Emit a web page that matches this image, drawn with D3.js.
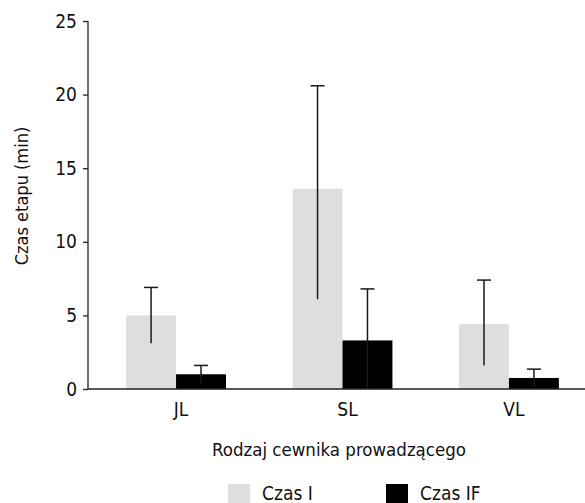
<!DOCTYPE html>
<html><head><meta charset="utf-8">
<script src="https://cdn.jsdelivr.net/npm/d3@7"></script>
<style>body{margin:0;background:#fff}svg{display:block}text{font-family:"DejaVu Sans Condensed","Liberation Sans Narrow",sans-serif;font-stretch:condensed;fill:#111}</style>
</head><body><svg id="c" width="585" height="503"></svg>
<script>
const categories = ["JL", "SL", "VL"];
const seriesNames = ["Czas I", "Czas IF"];
const czasI = [5.0, 13.6, 4.4];
const czasIF = [1.0, 3.3, 0.75];
const czasIErrUp = [1.9, 7.0, 3.0];
const czasIErrDown = [1.9, 7.5, 2.8];
const czasIFErrUp = [0.6, 3.5, 0.6];
const czasIFErrDown = [0.6, 3.3, 0.6];
const yTicks = [0, 5, 10, 15, 20, 25];
const colors = ["#dedede", "#000000"];
const FONT = '"DejaVu Sans Condensed","Liberation Sans Narrow",sans-serif';

const svg = d3.select("#c");
const x0 = 88;
const y = d3.scaleLinear().domain([0, 25]).range([389, 21]);
const x = d3.scaleBand().domain(categories).range([85.5, 599.5]).paddingInner(0.4).paddingOuter(0.244);
const xs = d3.scaleBand().domain(seriesNames).range([0, x.bandwidth()]);

const series = [
  {name: seriesNames[0], vals: czasI, up: czasIErrUp, down: czasIErrDown, color: colors[0]},
  {name: seriesNames[1], vals: czasIF, up: czasIFErrUp, down: czasIFErrDown, color: colors[1]}
];

series.forEach(s => {
  svg.append("g").selectAll("rect").data(categories).join("rect")
    .attr("x", (c) => x(c) + xs(s.name))
    .attr("width", xs.bandwidth())
    .attr("y", (c, i) => y(s.vals[i]))
    .attr("height", (c, i) => y(0) - y(s.vals[i]))
    .attr("fill", s.color);
});
series.forEach(s => {
  const g = svg.append("g").attr("stroke", "#1a1a1a").attr("stroke-width", 1.5);
  categories.forEach((c, i) => {
    const cx = x(c) + xs(s.name) + xs.bandwidth() / 2;
    const top = y(s.vals[i] + s.up[i]), bot = y(s.vals[i] - s.down[i]);
    g.append("line").attr("x1", cx).attr("x2", cx).attr("y1", top).attr("y2", bot);
    g.append("line").attr("x1", cx - 7).attr("x2", cx + 7).attr("y1", top).attr("y2", top);
  });
});

const yAxis = svg.append("g").attr("transform", `translate(${x0},0)`)
  .call(d3.axisLeft(y).tickValues(yTicks).tickSize(5).tickPadding(6));
yAxis.select(".domain").attr("stroke", "#222").attr("stroke-width", 1.3).attr("d", `M0,${y(25)}V${y(0)}`);
yAxis.selectAll(".tick line").attr("stroke", "#222").attr("stroke-width", 1.3);
yAxis.selectAll(".tick text").style("font-size", "19px").attr("fill", "#111").style("font-family", FONT);

const xAxis = svg.append("g").attr("transform", `translate(0,${y(0)})`)
  .call(d3.axisBottom(x).tickSize(0).tickPadding(14));
xAxis.select(".domain").attr("stroke", "#222").attr("stroke-width", 1.3).attr("d", `M${x0},0H585`);
xAxis.selectAll(".tick text").style("font-size", "19px").attr("fill", "#111").attr("dx", 5).style("font-family", FONT);

svg.append("text").attr("x", 339).attr("y", 456).attr("text-anchor", "middle")
  .style("font-size", "18.5px").text("Rodzaj cewnika prowadzącego");
svg.append("text").attr("transform", "translate(28,196) rotate(-90)").attr("text-anchor", "middle")
  .style("font-size", "18px").text("Czas etapu (min)");

const legX = [228, 386];
series.forEach((s, i) => {
  svg.append("rect").attr("x", legX[i]).attr("y", 484).attr("width", 22).attr("height", 22).attr("fill", s.color);
  svg.append("text").attr("x", legX[i] + 34).attr("y", 500).style("font-size", "19px").text(s.name);
});
</script></body></html>
